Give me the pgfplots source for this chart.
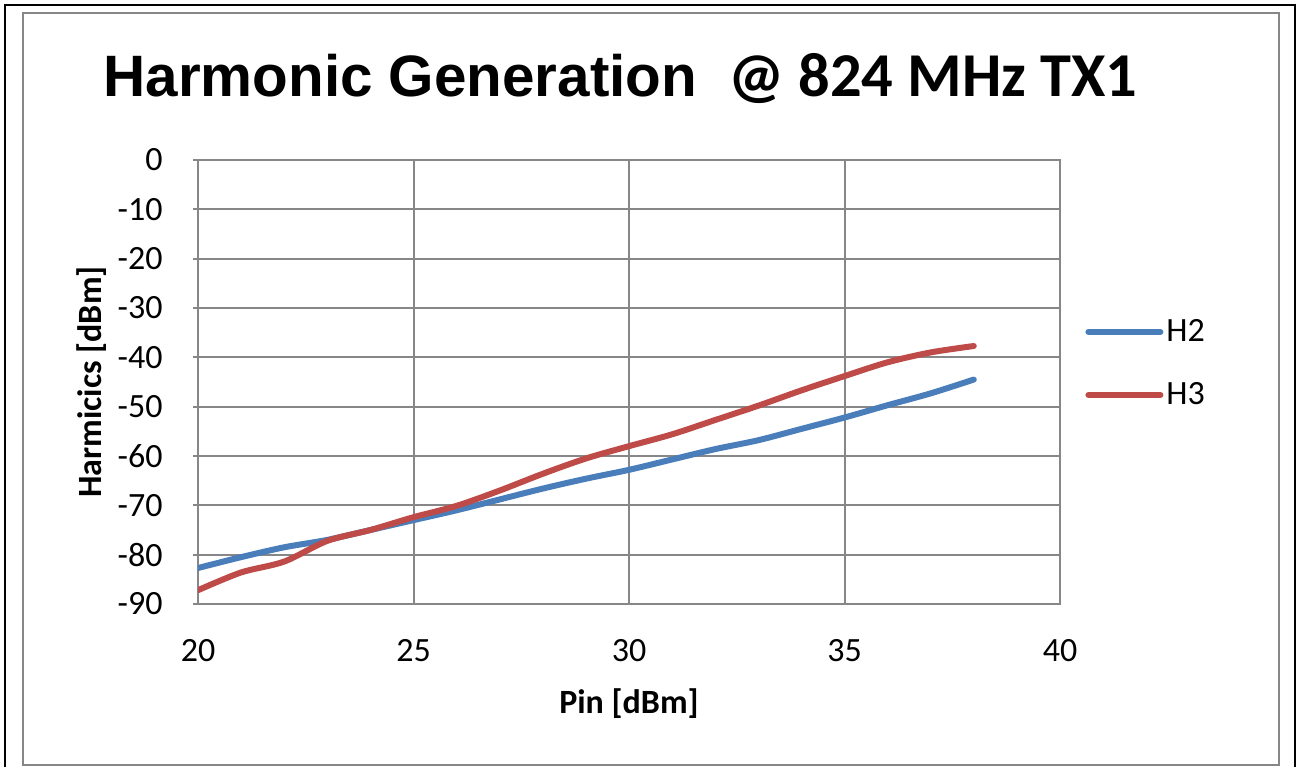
\documentclass[border=0pt]{standalone}
\usepackage{fontspec}
\setmainfont{Carlito}
\newfontfamily\arialfont{Liberation Sans}
\usepackage{pgfplots}
\pgfplotsset{compat=1.18}
\definecolor{hblue}{HTML}{4A7EBB}
\definecolor{hred}{HTML}{BE4B48}
\definecolor{gridgray}{HTML}{878787}
\begin{document}
\begin{tikzpicture}[x=0.5pt,y=-0.5pt]
\path[use as bounding box] (0,0) rectangle (1297,767);
% frames
\draw[black, line width=1pt] (5,767) -- (5,5) -- (1295,5) -- (1295,767);
\draw[gridgray, line width=1pt] (22.5,13) rectangle (1279,765);
% title
\node[anchor=base west, inner sep=0pt, font=\arialfont\bfseries\fontsize{29.2}{32}\selectfont] at (103,96) {Harmonic Generation};
\node[anchor=base west, inner sep=0pt, font=\bfseries\fontsize{31.2}{34}\selectfont] at (728,96) {@ 824 MHz TX1};
\coordinate (plotorigin) at (198,604);
\begin{axis}[
    at={(plotorigin)}, anchor=south west,
    scale only axis,
    width=431pt, height=222pt,
    xmin=20, xmax=40,
    ymin=-90, ymax=0,
    xtick={20,25,30,35,40},
    xticklabels={20,25,30,35,40},
    ytick={-90,-80,-70,-60,-50,-40,-30,-20,-10,0},
    yticklabels={-90,-80,-70,-60,-50,-40,-30,-20,-10,0},
    grid=major,
    grid style={gridgray, line width=1pt},
    axis line style={gridgray, line width=1pt},
    tick style={gridgray, line width=1pt},
    tick align=outside,
    ytick pos=left,
    xtick pos=bottom,
    major tick length=2.5pt,
    x tick style={draw=none},
    tick label style={font=\fontsize{17}{20}\selectfont, black},
    xticklabel style={anchor=north, inner sep=0pt},
    yticklabel style={anchor=east, inner sep=0pt},
    xticklabel shift=15pt,
    yticklabel shift=15pt,
    xlabel={Pin [dBm]},
    ylabel={Harmicics [dBm]},
    every axis x label/.style={at={(axis description cs:0.5,-0.2455)}, anchor=base,
        font=\bfseries\fontsize{17}{20}\selectfont},
    every axis y label/.style={at={(axis description cs:-0.1114,0.5)}, anchor=base, rotate=90,
        font=\bfseries\fontsize{17}{20}\selectfont},
    legend style={at={(axis description cs:1.029,0.542)}, anchor=west, draw=none, fill=none,
        inner sep=0pt, row sep=19pt, font=\fontsize{17}{20}\selectfont,
        nodes={inner xsep=1.5pt, inner ysep=0pt}},
    legend cell align=left,
    legend image code/.code={\draw[#1] (0pt,0pt) -- (36pt,0pt);},
]
\addplot[hblue, line width=3pt, line cap=round, smooth] coordinates {
    (20,-82.7) (21,-80.5) (22,-78.5) (23,-77.0) (24,-75.0) (25,-73.0)
    (26,-71.0) (27,-68.8) (28,-66.6) (29,-64.6) (30,-62.8) (31,-60.7)
    (32,-58.6) (33,-56.8) (34,-54.5) (35,-52.2) (36,-49.7) (37,-47.3) (38,-44.5)};
\addlegendentry{H2}
\addplot[hred, line width=3pt, line cap=round, smooth] coordinates {
    (20,-87.2) (21,-83.6) (22,-81.4) (23,-77.2) (24,-75.0) (25,-72.4)
    (26,-70.1) (27,-67.0) (28,-63.6) (29,-60.5) (30,-58.0) (31,-55.6)
    (32,-52.7) (33,-49.8) (34,-46.7) (35,-43.8) (36,-41.0) (37,-39.0) (38,-37.7)};
\addlegendentry{H3}
\end{axis}
\end{tikzpicture}
\end{document}
